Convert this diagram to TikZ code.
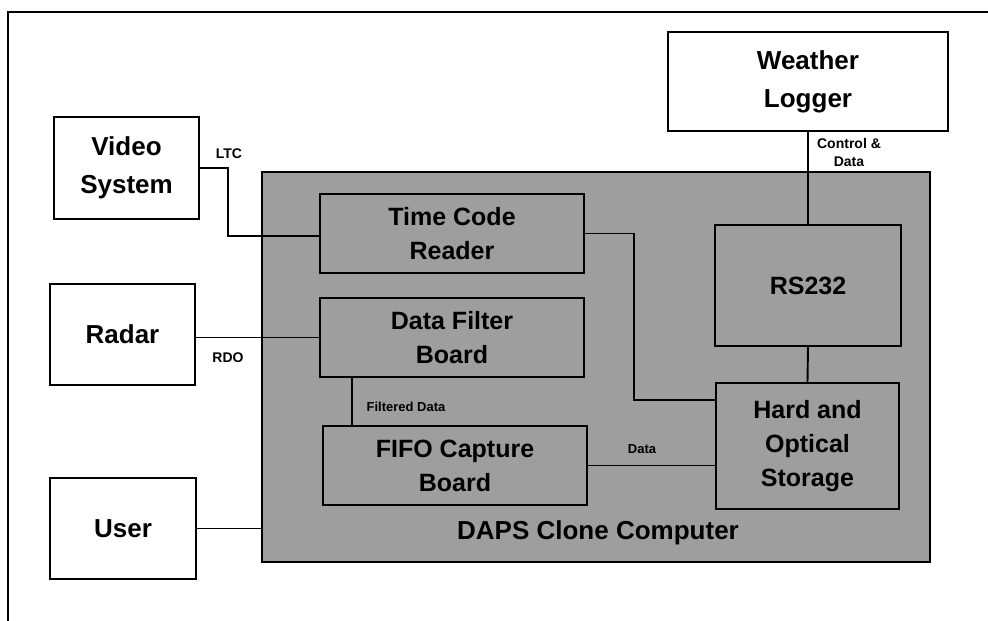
\documentclass[tikz,border=0pt]{standalone}
\usepackage{fontspec}
\setmainfont{Liberation Sans}
\usetikzlibrary{positioning,calc}

\begin{document}
\begin{tikzpicture}[x=1pt,y=-1pt,line width=1.9pt,
  unit/.style={draw, rectangle, inner sep=0pt, align=center, font=\bfseries\fontsize{26}{38}\selectfont},
  card/.style={draw, rectangle, inner sep=0pt, align=center, font=\bfseries\fontsize{25}{34}\selectfont},
  tag/.style={inner sep=0pt, align=center, font=\bfseries\fontsize{14}{18}\selectfont}]
\useasboundingbox (0,0) rectangle (988,621);
\draw[line width=1.8pt] (8,621) -- (8,12) -- (988,12);

\node[draw, fill=black!38, minimum width=668pt, minimum height=390pt] (daps) at (596,367) {};
\node[inner sep=0pt, font=\bfseries\fontsize{26}{30}\selectfont] (dapslabel) at (598,533) {DAPS Clone Computer};

\node[unit, minimum width=145pt, minimum height=102pt] (video) at (126.5,168) {Video\\System};
\node[unit, minimum width=145pt, minimum height=101pt] (radar) at (122.5,334.5) {Radar};
\node[unit, minimum width=146pt, minimum height=101pt] (user) at (123,528.5) {User};
\node[unit, minimum width=280pt, minimum height=99pt] (weather) at (808,81.5) {Weather\\Logger};

\node[card, minimum width=264pt, minimum height=79pt] (tcr) at (452,233.5) {Time Code\\Reader};
\node[card, minimum width=264pt, minimum height=79pt] (filter) at (452,337.5) {Data Filter\\Board};
\node[card, minimum width=264pt, minimum height=79pt] (fifo) at (455,465.5) {FIFO Capture\\Board};
\node[card, minimum width=186pt, minimum height=121pt] (rs) at (808,285.5) {RS232};
\node[card, minimum width=183pt, minimum height=126pt] (storage) at (807.5,446) {Hard and\\Optical\\Storage};

\coordinate (ltc) at (228,236);
\coordinate (bend) at (634,400);
\draw (video.east) -| (ltc) -- (ltc -| tcr.west);
\draw (filter.west -| radar.east) -- (filter.west);
\draw (user.east) -- (user.east -| daps.west);
\draw (weather.south) -- (rs.north);
\draw (rs.south) -- (storage.north);
\draw (tcr.east) -| (bend) -- (bend -| storage.west);
\draw ([xshift=33pt]filter.south west) -- ([xshift=33pt]filter.south west |- fifo.north);
\draw (fifo.east) -- (fifo.east -| storage.west);

\node[tag] (ltctag) at (229,154) {LTC};
\node[tag] (rdotag) at (228,358) {RDO};
\node[tag] (ctltag) at (849,152) {Control \&\\Data};
\node[tag, font=\bfseries\fontsize{13}{16}\selectfont] (filtag) at (406,407) {Filtered Data};
\node[tag, font=\bfseries\fontsize{13}{16}\selectfont] (datatag) at (642,449) {Data};
\end{tikzpicture}
\end{document}
